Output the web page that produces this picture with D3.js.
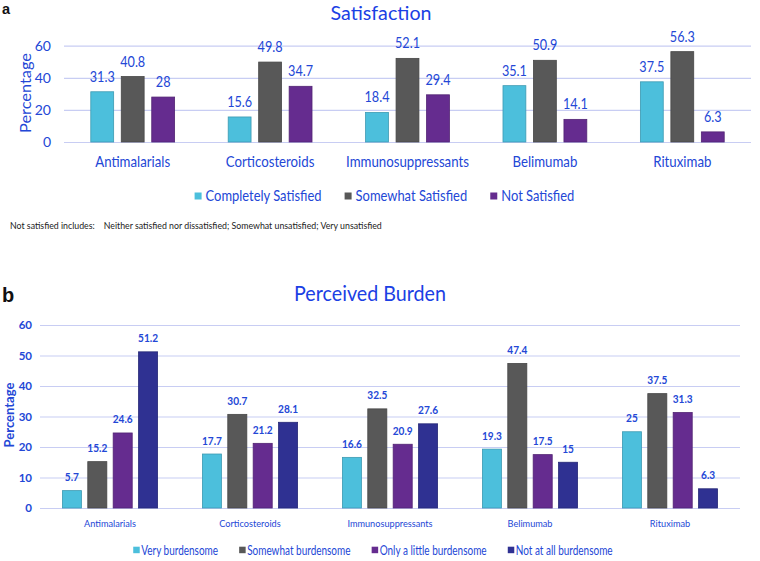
<!DOCTYPE html>
<html><head><meta charset="utf-8">
<script src="https://cdn.jsdelivr.net/npm/d3@7"></script>
<style>body{margin:0;background:#fff}svg{display:block}</style>
</head><body>
<script>
// ---- data ----
const categories = ["Antimalarials","Corticosteroids","Immunosuppressants","Belimumab","Rituximab"];
const satSeries = ["Completely Satisfied","Somewhat Satisfied","Not Satisfied"];
const completelySatisfied = [31.3,15.6,18.4,35.1,37.5];
const somewhatSatisfied = [40.8,49.8,52.1,50.9,56.3];
const notSatisfied = [28,34.7,29.4,14.1,6.3];
const burdenSeries = ["Very burdensome","Somewhat burdensome","Only a little burdensome","Not at all burdensome"];
const veryBurdensome = [5.7,17.7,16.6,19.3,25];
const somewhatBurdensome = [15.2,30.7,32.5,47.4,37.5];
const littleBurdensome = [24.6,21.2,20.9,17.5,31.3];
const notBurdensome = [51.2,28.1,27.6,15,6.3];
const yTicksA = [0,20,40,60];
const yTicksB = [0,10,20,30,40,50,60];
const titleA = "Satisfaction", titleB = "Perceived Burden", yTitle = "Percentage";
const footnote = "Not satisfied includes:    Neither satisfied nor dissatisfied; Somewhat unsatisfied; Very unsatisfied";

// ---- style ----
const FONT = "Lato, 'Noto Sans', sans-serif";
const BLUE = "#2347d6", TITLE = "#1b40e4", GRID = "#c8cdf3";
const colA = ["#4cbfdc","#585858","#652c8f"];
const colB = ["#4cbfdc","#585858","#652c8f","#2f3192"];

const W = 760, H = 561;
const svg = d3.select("body").append("svg").attr("width", W).attr("height", H);

function fit(str, size, weight, target) {
  const t = svg.append("text").attr("font-family", FONT).attr("font-size", size)
    .attr("font-weight", weight).style("white-space","pre").text(str);
  const w = t.node().getComputedTextLength(); t.remove(); return target / w;
}
function label(g, str, x, y, o) {
  const rot = o.rotate ? ` rotate(${o.rotate})` : "";
  return g.append("text").attr("font-family", FONT).attr("font-size", o.size)
    .attr("font-weight", o.weight || 400).attr("fill", o.fill || BLUE)
    .attr("text-anchor", o.anchor || "middle").style("white-space","pre")
    .attr("transform", `translate(${x},${y})${rot} scale(${o.sx || 1},1)`).text(str);
}

function panel(cfg) {
  const g = svg.append("g");
  const x0 = d3.scaleBand().domain(cfg.cats).range([cfg.left, cfg.right])
    .paddingInner(cfg.pin).paddingOuter(cfg.pout);
  const x1 = d3.scaleBand().domain(cfg.series).range([0, x0.bandwidth()]).paddingInner(cfg.pbar);
  const y = d3.scaleLinear().domain([0, 60]).range([cfg.y0, cfg.y60]);

  // grid + ticks through axis
  const ax = g.append("g").attr("transform", `translate(${cfg.left},0)`)
    .call(d3.axisLeft(y).tickValues(cfg.ticks).tickSizeInner(-(cfg.right - cfg.left)).tickSizeOuter(0).tickPadding(cfg.tickPad));
  ax.select(".domain").remove();
  ax.selectAll(".tick line").attr("stroke", GRID).attr("stroke-width", 1.2);
  ax.selectAll(".tick text").attr("font-family", FONT).attr("font-size", cfg.tickSize)
    .attr("font-weight", cfg.tickWeight).attr("fill", BLUE);

  // bars
  cfg.series.forEach((s, si) => {
    const vals = cfg.values[si];
    const sx = cfg.valSx;
    g.selectAll(null).data(vals).enter().append("rect")
      .attr("x", (d, i) => x0(cfg.cats[i]) + x1(s))
      .attr("y", d => y(d)).attr("width", x1.bandwidth()).attr("height", d => y(0) - y(d))
      .attr("fill", cfg.colors[si]).attr("stroke", d3.color(cfg.colors[si]).darker(0.6)).attr("stroke-width", 0.8);
    vals.forEach((d, i) => {
      label(g, String(d), x0(cfg.cats[i]) + x1(s) + x1.bandwidth() / 2, y(d) - cfg.valGap,
        {size: cfg.valSize, weight: cfg.valWeight, sx});
    });
  });

  // categories
  cfg.cats.forEach(c => label(g, c, x0(c) + x0.bandwidth() / 2, cfg.catY, {size: cfg.catSize, sx: cfg.catSx}));

  // legend
  const items = cfg.series.map(s => {
    const t = svg.append("text").attr("font-family", FONT).attr("font-size", cfg.legSize).text(s);
    const w = t.node().getComputedTextLength() * cfg.legSx; t.remove(); return w;
  });
  const total = d3.sum(items) + cfg.series.length * (cfg.sq + cfg.sqGap) + (cfg.series.length - 1) * cfg.itemGap;
  let cx = cfg.legCenter - total / 2;
  cfg.series.forEach((s, si) => {
    g.append("rect").attr("x", cx).attr("y", cfg.legY - cfg.sqOff).attr("width", cfg.sq).attr("height", cfg.sq)
      .attr("fill", cfg.colors[si]);
    cx += cfg.sq + cfg.sqGap;
    label(g, s, cx, cfg.legY, {size: cfg.legSize, sx: cfg.legSx, anchor: "start"});
    cx += items[si] + cfg.itemGap;
  });

  // titles
  label(g, cfg.title, cfg.titleX, cfg.titleY, {size: cfg.titleSize, sx: cfg.titleSx, fill: TITLE});
  label(g, yTitle, cfg.yTitleX, cfg.yTitleY, {size: cfg.yTitleSize, weight: cfg.yTitleWeight, sx: cfg.yTitleSx, rotate: -90});
  g.append("text").attr("x", 2).attr("y", cfg.letterY).attr("font-family", "'Liberation Sans', Arial, sans-serif")
    .attr("font-weight", 700).attr("font-size", cfg.letterSize).attr("fill", "#111").text(cfg.letter);
  return g;
}

panel({
  cats: categories, series: satSeries, values: [completelySatisfied, somewhatSatisfied, notSatisfied],
  colors: colA, left: 64, right: 751, pin: 0.39, pout: 0.195, pbar: 0.25,
  y0: 142, y60: 45.7, ticks: yTicksA, tickPad: 13, tickSize: 14, tickWeight: 400,
  valSize: 15, valWeight: 400, valGap: 10, valSx: fit("31.3", 15, 400, 25),
  catY: 167, catSize: 14.5, catSx: fit("Antimalarials", 14.5, 400, 75),
  legSize: 14.5, legSx: fit("Completely Satisfied", 14.5, 400, 116), legY: 200.5, legCenter: 384.5,
  sq: 7, sqGap: 4, sqOff: 8, itemGap: 23,
  title: titleA, titleX: 381, titleY: 20, titleSize: 19, titleSx: fit(titleA, 19, 400, 101),
  yTitleX: 31, yTitleY: 93, yTitleSize: 16, yTitleWeight: 400, yTitleSx: fit(yTitle, 16, 400, 80),
  letter: "a", letterY: 13.5, letterSize: 14.5
});

label(svg, footnote, 10, 229, {size: 10, anchor: "start", fill: "#222", sx: fit(footnote, 10, 400, 372)});

panel({
  cats: categories, series: burdenSeries, values: [veryBurdensome, somewhatBurdensome, littleBurdensome, notBurdensome],
  colors: colB, left: 40, right: 740, pin: 0.32, pout: 0.16, pbar: 0.25,
  y0: 508, y60: 325, ticks: yTicksB, tickPad: 8, tickSize: 11.5, tickWeight: 700,
  valSize: 12, valWeight: 700, valGap: 9.5, valSx: fit("24.6", 12, 700, 20),
  catY: 527, catSize: 9.5, catSx: fit("Antimalarials", 9.5, 400, 52),
  legSize: 13.5, legSx: fit("Not at all burdensome", 13.5, 400, 97), legY: 555, legCenter: 373,
  sq: 6.5, sqGap: 1.5, sqOff: 8.3, itemGap: 21,
  title: titleB, titleX: 370, titleY: 300.5, titleSize: 20.5, titleSx: fit(titleB, 20.5, 400, 152),
  yTitleX: 14, yTitleY: 415, yTitleSize: 13, yTitleWeight: 700, yTitleSx: fit(yTitle, 13, 700, 65),
  letter: "b", letterY: 302, letterSize: 20
});
</script>
</body></html>
